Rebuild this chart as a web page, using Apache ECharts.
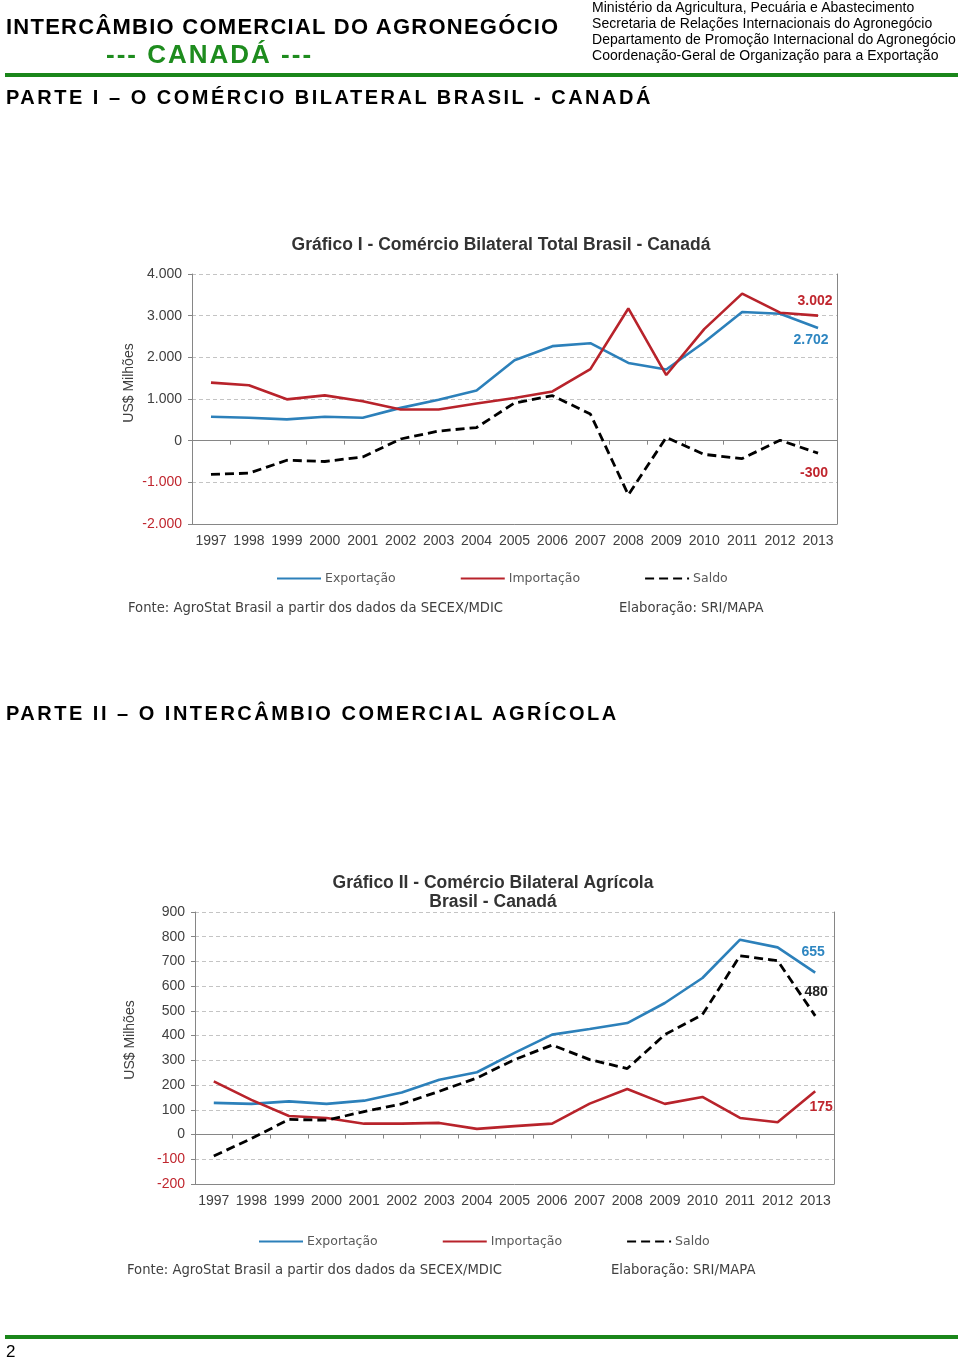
<!DOCTYPE html>
<html>
<head>
<meta charset="utf-8">
<script src="https://cdn.jsdelivr.net/npm/echarts@6/dist/echarts.min.js"></script>
<style>
  html,body{margin:0;padding:0;background:#fff;}
  #wrap{position:relative;width:960px;height:1359px;overflow:hidden;}
  #chart{position:absolute;left:0;top:0;width:960px;height:1359px;}
  .t{position:absolute;white-space:nowrap;font-family:"Liberation Sans",Arial,sans-serif;color:#000;line-height:1;}
</style>
</head>
<body>
<div id="wrap">
  <div id="chart"></div>
  <div class="t" style="left:6px;top:16px;font-size:22px;font-weight:bold;letter-spacing:1.25px;">INTERCÂMBIO COMERCIAL DO AGRONEGÓCIO</div>
  <div class="t" style="left:106px;top:41px;font-size:26px;font-weight:bold;letter-spacing:2px;color:#1e8c1e;">--- CANADÁ ---</div>
  <div class="t" style="left:592px;top:-1px;font-size:14px;line-height:16px;letter-spacing:0.05px;">Ministério da Agricultura, Pecuária e Abastecimento<br>Secretaria de Relações Internacionais do Agronegócio<br>Departamento de Promoção Internacional do Agronegócio<br>Coordenação-Geral de Organização para a Exportação</div>
  <div class="t" style="left:6px;top:87px;font-size:20px;font-weight:bold;letter-spacing:2.5px;">PARTE I – O COMÉRCIO BILATERAL BRASIL - CANADÁ</div>
  <div class="t" style="left:6px;top:703px;font-size:20px;font-weight:bold;letter-spacing:2.5px;">PARTE II – O INTERCÂMBIO COMERCIAL AGRÍCOLA</div>
  <div class="t" style="left:6px;top:1343px;font-size:17px;">2</div>
</div>
<script>
// ---------- data ----------
const years = ['1997','1998','1999','2000','2001','2002','2003','2004','2005','2006','2007','2008','2009','2010','2011','2012','2013'];
const seriesNames = ['Exportação','Importação','Saldo'];

// Gráfico I - Comércio Bilateral Total (US$ milhões)
const export1 = [575, 550, 512, 575, 551, 787, 984, 1205, 1929, 2268, 2339, 1866, 1709, 2362, 3087, 3047, 2702];
const import1 = [1394, 1331, 992, 1087, 945, 748, 748, 890, 1024, 1181, 1717, 3173, 1575, 2677, 3528, 3071, 3002];
const saldo1  = [-810, -780, -470, -500, -390, 40, 230, 315, 905, 1080, 640, -1300, 80, -330, -430, 10, -300];
const yTicks1 = {min: -2000, max: 4000, interval: 1000};

// Gráfico II - Comércio Bilateral Agrícola (US$ milhões)
const export2 = [128, 124, 134, 124, 137, 170, 222, 252, 330, 404, 427, 451, 532, 633, 788, 757, 655];
const import2 = [215, 140, 75, 67, 44, 44, 47, 23, 34, 44, 125, 184, 124, 152, 67, 50, 175];
const saldo2  = [-87, -16, 61, 58, 93, 124, 175, 229, 303, 362, 303, 267, 404, 485, 723, 703, 480];
const yTicks2 = {min: -200, max: 900, interval: 100};

// ---------- styles ----------
const BLUE = '#2c80ba', RED = '#b8232b', BLACK = '#000000';
const AXIS = '#868686', GRIDC = '#c4c4c4', TXT = '#404040';
const FONT = '"Liberation Sans", Arial, sans-serif';
const SRC_FONT = '"DejaVu Sans", Verdana, sans-serif';

const fmt = v => String(v).replace(/\B(?=(\d{3})+(?!\d))/g, '.');

const grids = [
  {left: 192, right: 123, top: 274, height: 250},
  {left: 195, right: 126, top: 912, height: 272}
];

function xAxes(gi) {
  return [
    {type: 'category', gridIndex: gi, data: years, boundaryGap: true,
     axisLine: {onZero: false, lineStyle: {color: AXIS, width: 1}},
     axisTick: {show: false},
     axisLabel: {interval: 0, color: TXT, fontFamily: FONT, fontSize: 14, margin: 10}},
    {type: 'category', gridIndex: gi, data: years, boundaryGap: true, position: 'bottom',
     axisLine: {onZero: true, lineStyle: {color: AXIS, width: 1}},
     axisTick: {show: true, length: 4, lineStyle: {color: AXIS}},
     axisLabel: {show: false}}
  ];
}
function yAxes(gi, t) {
  return [
    {type: 'value', gridIndex: gi, min: t.min, max: t.max, interval: t.interval,
     axisLine: {show: true, lineStyle: {color: AXIS}},
     axisTick: {show: true, length: 4, lineStyle: {color: AXIS}},
     splitLine: {show: true, lineStyle: {color: GRIDC, type: [4, 3], width: 1}},
     axisLabel: {color: v => v < 0 ? '#c0262e' : TXT, fontFamily: FONT, fontSize: 14, margin: 10,
                 formatter: v => fmt(v)}},
    {type: 'value', gridIndex: gi, position: 'right', min: 0, max: 1,
     axisLine: {show: true, lineStyle: {color: AXIS}},
     axisTick: {show: false}, axisLabel: {show: false}, splitLine: {show: false}}
  ];
}

function endLab(off, color) {
  return {show: true, formatter: p => fmt(p.value), fontFamily: FONT, fontWeight: 'bold', fontSize: 14,
          color: color, align: 'center', verticalAlign: 'middle', distance: 0, offset: off};
}

function lines(gi, exp, imp, sal, labs) {
  const xi = gi * 2, yi = gi * 2;
  const base = {type: 'line', xAxisIndex: xi, yAxisIndex: yi, symbol: 'none', showSymbol: false, animation: false, z: 3};
  return [
    Object.assign({}, base, {name: seriesNames[0], data: exp, endLabel: labs[0],
      lineStyle: {color: BLUE, width: 2.6}, itemStyle: {color: BLUE}}),
    Object.assign({}, base, {name: seriesNames[1], data: imp, endLabel: labs[1],
      lineStyle: {color: RED, width: 2.6}, itemStyle: {color: RED}}),
    Object.assign({}, base, {name: seriesNames[2], data: sal, endLabel: labs[2],
      lineStyle: {color: BLACK, width: 2.8, type: [9, 5]}, itemStyle: {color: BLACK}})
  ];
}

const legendBase = {
  data: seriesNames, orient: 'horizontal', itemWidth: 44, itemHeight: 14, itemGap: 64, padding: 0,
  textStyle: {color: '#595959', fontFamily: SRC_FONT, fontSize: 12.5, padding: [0, 0, 0, -1]},
  lineStyle: {width: 2}, itemStyle: {opacity: 0}, selectedMode: false
};

const srcText = (x, y, s) => ({type: 'text', left: x, top: y,
  style: {text: s, fill: '#404040', font: '13.2px ' + SRC_FONT}});

const chart = echarts.init(document.getElementById('chart'), null, {renderer: 'canvas'});
chart.setOption({
  animation: false,
  backgroundColor: '#fff',
  title: [
    {text: 'Gráfico I - Comércio Bilateral Total Brasil - Canadá', left: 496, top: 231, textAlign: 'center',
     textStyle: {fontFamily: FONT, fontSize: 17.5, fontWeight: 'bold', color: '#333'}},
    {text: 'Gráfico II - Comércio Bilateral Agrícola\nBrasil - Canadá', left: 488, top: 869, textAlign: 'center',
     textStyle: {fontFamily: FONT, fontSize: 17.5, fontWeight: 'bold', color: '#333', lineHeight: 19}}
  ],
  grid: grids,
  xAxis: xAxes(0).concat(xAxes(1)),
  yAxis: yAxes(0, yTicks1).concat(yAxes(1, yTicks2)),
  legend: [
    Object.assign({}, legendBase, {left: 276, top: 572}),
    Object.assign({}, legendBase, {left: 258, top: 1235})
  ],
  graphic: [
    {type: 'rect', shape: {x: 5, y: 73, width: 953, height: 4}, style: {fill: '#1a861a'}},
    {type: 'rect', shape: {x: 5, y: 1335, width: 953, height: 4}, style: {fill: '#1a861a'}},
    {type: 'text', x: 129, y: 383, rotation: Math.PI / 2,
     style: {text: 'US$ Milhões', fill: TXT, font: '14px ' + FONT, align: 'center', verticalAlign: 'middle'}},
    {type: 'text', x: 130, y: 1040, rotation: Math.PI / 2,
     style: {text: 'US$ Milhões', fill: TXT, font: '14px ' + FONT, align: 'center', verticalAlign: 'middle'}},
    srcText(128, 602, 'Fonte: AgroStat Brasil a partir dos dados da SECEX/MDIC'),
    srcText(619, 602, 'Elaboração: SRI/MAPA'),
    srcText(127, 1264, 'Fonte: AgroStat Brasil a partir dos dados da SECEX/MDIC'),
    srcText(611, 1264, 'Elaboração: SRI/MAPA')
  ],
  series: lines(0, export1, import1, saldo1, [
      endLab([-7, 12], '#2e86c1'),
      endLab([-3, -14], '#c0262e'),
      endLab([-4, 20], '#c0262e')
    ]).concat(lines(1, export2, import2, saldo2, [
      endLab([-2, -20], '#2e86c1'),
      endLab([6, 16], '#c0262e'),
      endLab([1, -24], '#222')
    ]))
});
</script>
</body>
</html>
